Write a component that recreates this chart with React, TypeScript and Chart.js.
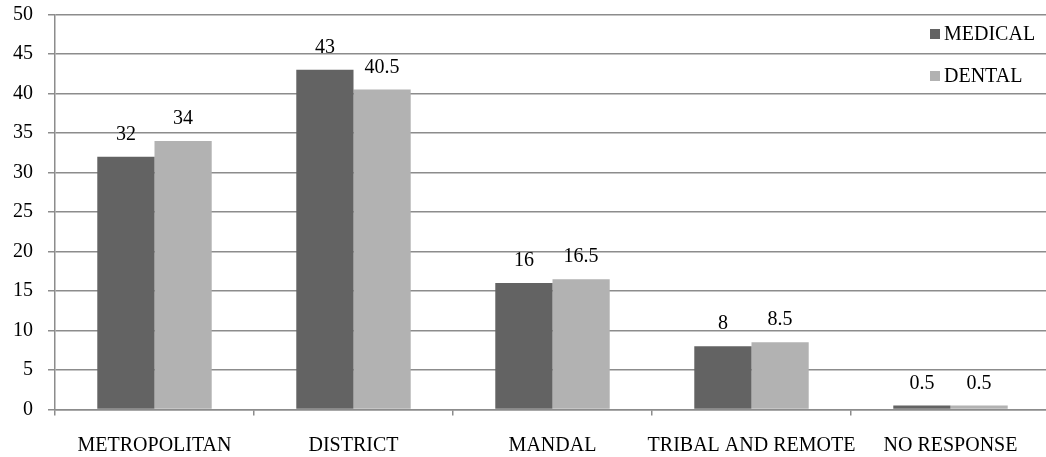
import React, { useEffect, useRef } from "react";
import { Chart, registerables } from "chart.js";

Chart.register(...registerables);

const categories = ["METROPOLITAN", "DISTRICT", "MANDAL", "TRIBAL AND REMOTE", "NO RESPONSE"];
const medical = [32, 43, 16, 8, 0.5];
const dental = [34, 40.5, 16.5, 8.5, 0.5];
const seriesNames = ["MEDICAL", "DENTAL"];
const seriesColors = ["#636363", "#b2b2b2"];

const FONT = '"Liberation Serif", "Times New Roman", Tinos';
const GRID = "#8c8c8c";

const valueLabels = {
  id: "valueLabels",
  afterDatasetsDraw(chart: any) {
    const ctx = chart.ctx;
    ctx.save();
    ctx.font = `20px ${FONT}`;
    ctx.fillStyle = "#000";
    ctx.textAlign = "center";
    ctx.textBaseline = "alphabetic";
    chart.data.datasets.forEach((ds: any, i: number) => {
      const meta = chart.getDatasetMeta(i);
      meta.data.forEach((bar: any, j: number) => {
        ctx.fillText(String(ds.data[j]), bar.x, bar.y - 17);
      });
    });
    ctx.restore();
  },
};

const boxLegend = {
  id: "boxLegend",
  afterDraw(chart: any) {
    const ctx = chart.ctx;
    ctx.save();
    ctx.font = `20px ${FONT}`;
    ctx.textBaseline = "alphabetic";
    ctx.textAlign = "left";
    chart.data.datasets.forEach((ds: any, i: number) => {
      const base = 40 + i * 42;
      ctx.fillStyle = ds.backgroundColor;
      ctx.fillRect(930, base - 11, 10, 10);
      ctx.fillStyle = "#000";
      ctx.fillText(ds.label, 944, base);
    });
    ctx.restore();
  },
};

export default function App() {
  const ref = useRef<HTMLCanvasElement>(null);
  useEffect(() => {
    document.documentElement.style.overflow = "hidden";
    document.body.style.margin = "0";
    document.body.style.overflow = "hidden";
    let chart: Chart | null = null;
    let cancelled = false;
    const build = () => {
      if (cancelled || !ref.current || chart) return;
      chart = new Chart(ref.current, {
        type: "bar",
        data: {
          labels: categories,
          datasets: [
            { label: seriesNames[0], data: medical, backgroundColor: seriesColors[0] },
            { label: seriesNames[1], data: dental, backgroundColor: seriesColors[1] },
          ],
        },
        plugins: [valueLabels, boxLegend],
        options: {
          responsive: false,
          animation: false,
          font: { family: FONT, size: 20 },
          layout: { padding: { top: 14.5, right: 0, bottom: 0, left: 0 } },
          datasets: { bar: { categoryPercentage: 0.575, barPercentage: 1 } },
          plugins: { legend: { display: false }, tooltip: { enabled: false } },
          scales: {
            x: {
              grid: { display: true, drawOnChartArea: false, offset: true, tickLength: 6, color: GRID, lineWidth: 1.5 },
              border: { display: true, color: GRID, width: 1.5 },
              ticks: { color: "#000", font: { family: FONT, size: 20 }, padding: 18, maxRotation: 0, autoSkip: false },
              afterFit(scale: any) {
                scale.height = 47.5;
                scale.paddingLeft = 0;
                scale.paddingRight = 0;
              },
            },
            y: {
              min: 0,
              max: 50,
              ticks: { stepSize: 5, color: "#000", font: { family: FONT, size: 20 }, padding: 15 },
              grid: { color: GRID, lineWidth: 1.5, tickLength: 7 },
              border: { display: true, color: GRID, width: 1.5 },
              afterFit(scale: any) {
                scale.width = 55;
                scale.paddingTop = 0;
                scale.paddingBottom = 0;
              },
            },
          },
        },
      });
    };
    const fonts: any = (document as any).fonts;
    const go = () => requestAnimationFrame(() => requestAnimationFrame(build));
    if (fonts && fonts.load) {
      Promise.all([fonts.load('20px "Liberation Serif"'), fonts.ready]).then(go, go);
    } else {
      go();
    }
    return () => {
      cancelled = true;
      if (chart) chart.destroy();
    };
  }, []);
  return (
    <div style={{ width: 1050, height: 457, position: "relative" }}>
      <span
        style={{ fontFamily: '"Liberation Serif"', fontSize: 20, position: "absolute", left: 0, top: 0, opacity: 0, pointerEvents: "none" }}
      >
        0123456789 ABCDEFGHIJKLMNOPQRSTUVWXYZ
      </span>
      <canvas ref={ref} width={1050} height={457} style={{ display: "block", position: "relative" }} />
    </div>
  );
}
